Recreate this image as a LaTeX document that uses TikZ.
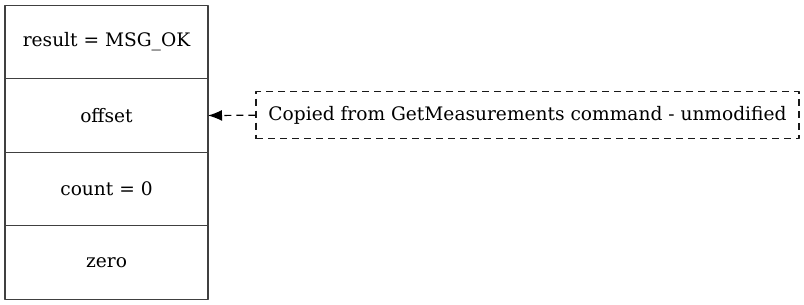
\documentclass[tikz,border=0pt]{standalone}
\usepackage{fontspec}
\setmainfont{DejaVu Serif}
\usetikzlibrary{positioning,arrows.meta}
\tikzset{
  field/.style={draw=black!75, line width=1.3pt, minimum width=203pt, minimum height=73.5pt, inner sep=0pt, outer sep=0pt},
  note/.style={draw=black!90, dash pattern=on 7pt off 5pt, line width=1.2pt, minimum width=543pt, minimum height=47pt, inner sep=0pt},
}
\begin{document}
\begin{tikzpicture}[x=1pt, y=-1pt, font=\fontsize{18.6}{22}\selectfont, line join=round, >={Latex[length=14pt,width=11pt]}]
    \useasboundingbox (0,0) rectangle (804,305);
    % reply fields
    \node[field] (result) at (106.5,42) {result = MSG\_OK};
    \node[field, below=0pt of result] (offset) {offset};
    \node[field, below=0pt of offset] (count) {count = 0};
    \node[field, below=0pt of count] (zero) {zero};
    % note on the offset field
    \node[note] (copied) at (527.5,115.25) {Copied from GetMeasurements command - unmodified};
    \draw[->, dash pattern=on 7pt off 5pt, line width=1.2pt] (copied.west) -- (offset.east);
\end{tikzpicture}
\end{document}
